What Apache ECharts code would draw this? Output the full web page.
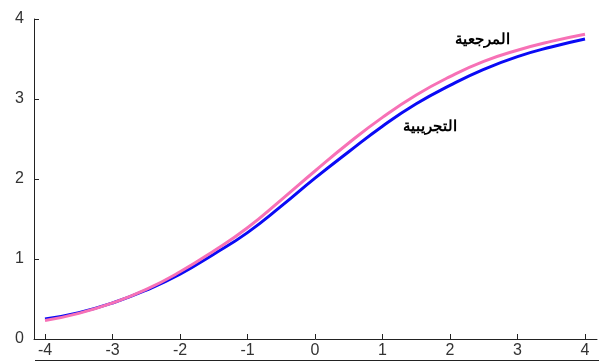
<!DOCTYPE html>
<html>
<head>
<meta charset="utf-8">
<script src="https://cdn.jsdelivr.net/npm/echarts@6/dist/echarts.min.js"></script>
<style>
  html, body { margin: 0; padding: 0; background: #fff; }
  #chart { width: 599px; height: 363px; }
</style>
</head>
<body>
<div id="chart"></div>
<script>
// Sample points along x, every half unit
const xValues = [-4, -3.5, -3, -2.5, -2, -1.5, -1, -0.5, 0, 0.5, 1, 1.5, 2, 2.5, 3, 3.5, 4];
// Experimental curve (blue)
const experimental = [0.25, 0.33, 0.45, 0.61, 0.81, 1.06, 1.33, 1.66, 2.01, 2.34, 2.66, 2.94, 3.17, 3.37, 3.53, 3.65, 3.75];
// Reference curve (pink)
const reference = [0.23, 0.32, 0.45, 0.62, 0.84, 1.10, 1.39, 1.74, 2.10, 2.45, 2.77, 3.05, 3.28, 3.47, 3.61, 3.72, 3.81];
const xTicks = [-4, -3, -2, -1, 0, 1, 2, 3, 4];
const yTicks = [0, 1, 2, 3, 4];

const labelExperimental = 'التجريبية';
const labelReference = 'المرجعية';

const pairs = (ys) => xValues.map((x, i) => [x, ys[i]]);
const font = 'Liberation Sans, Arial, sans-serif';

const chart = echarts.init(document.getElementById('chart'));
chart.setOption({
  animation: false,
  backgroundColor: '#fff',
  grid: [
    { left: 45, right: 14, top: 19, bottom: 24 },
    // wider grid that only carries the full-length baseline
    { left: 34, right: 2, top: 19, bottom: 24 }
  ],
  xAxis: [
    {
      type: 'value', gridIndex: 0, min: -4, max: 4, interval: 1,
      axisLine: { show: false, onZero: false },
      axisTick: { show: true, inside: true, length: 5, lineStyle: { color: '#222', width: 1 } },
      axisLabel: {
        color: '#333', fontSize: 16, fontFamily: font, margin: 4,
        formatter: (v) => (xTicks.includes(v) ? String(v) : '')
      },
      splitLine: { show: false }
    },
    {
      type: 'value', gridIndex: 1, min: 0, max: 1, position: 'bottom',
      axisLine: { show: true, onZero: false, lineStyle: { color: '#222', width: 1 } },
      axisTick: { show: false }, axisLabel: { show: false }, splitLine: { show: false }
    }
  ],
  yAxis: [
    {
      type: 'value', gridIndex: 0, min: 0, max: 4, interval: 1, offset: 11, position: 'left',
      axisLine: { show: true, onZero: false, lineStyle: { color: '#222', width: 1 } },
      axisTick: { show: true, inside: true, length: 5, lineStyle: { color: '#222', width: 1 } },
      axisLabel: {
        color: '#333', fontSize: 16, fontFamily: font, margin: 10,
        formatter: (v) => (yTicks.includes(v) ? String(v) : '')
      },
      splitLine: { show: false }
    },
    {
      type: 'value', gridIndex: 1, min: 0, max: 1,
      axisLine: { show: false, onZero: false },
      axisTick: { show: false }, axisLabel: { show: false }, splitLine: { show: false }
    }
  ],
  series: [
    {
      name: labelExperimental, type: 'line', xAxisIndex: 0, yAxisIndex: 0,
      data: pairs(experimental), smooth: 0.5, symbol: 'none',
      lineStyle: { color: '#0a0af5', width: 3 }
    },
    {
      name: labelReference, type: 'line', xAxisIndex: 0, yAxisIndex: 0,
      data: pairs(reference), smooth: 0.5, symbol: 'none',
      lineStyle: { color: '#f771b6', width: 3 }
    }
  ],
  graphic: [
    {
      type: 'text', left: 455, top: 32,
      style: { text: labelReference, font: 'bold 15px ' + font, fill: '#000' }
    },
    {
      type: 'text', left: 403, top: 119,
      style: { text: labelExperimental, font: 'bold 15px ' + font, fill: '#000' }
    },
    {
      type: 'line', shape: { x1: 35, y1: 360.5, x2: 599, y2: 360.5 },
      style: { stroke: '#222', lineWidth: 1 }
    }
  ]
});
</script>
</body>
</html>
